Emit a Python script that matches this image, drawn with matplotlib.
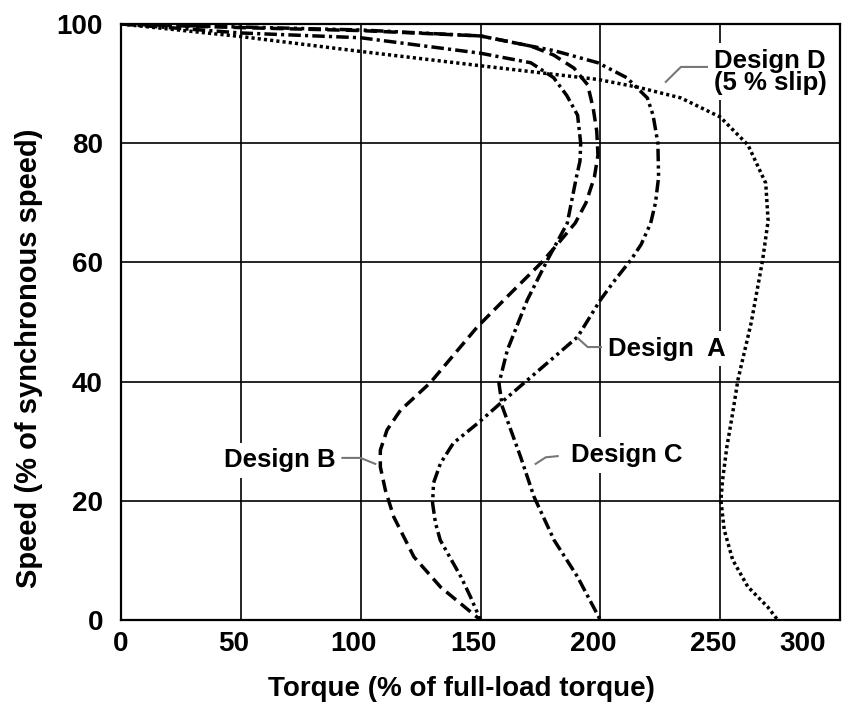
import numpy as np
import matplotlib
matplotlib.use("Agg")
import matplotlib.pyplot as plt
import matplotlib.transforms as mtransforms

plt.rcParams["font.family"] = ["Liberation Sans", "DejaVu Sans"]
plt.rcParams["font.weight"] = "bold"

# torque (% of full-load torque), speed (% of synchronous speed)
torque_a = [0, 50, 100, 150, 171, 181, 199, 211, 219.6, 222, 224, 224.3, 223, 221, 217, 212.7,
            206, 200, 190.5, 174.6, 158.4, 148.8, 138.7, 133.3, 130.4, 130, 131.2, 133.2, 141.9, 145.8, 150]
speed_a = [100, 99.5, 99.0, 98.0, 96.3, 95.5, 93.5, 91, 87.6, 84.7, 80, 74.3, 70, 66.6, 63, 60.4,
           57, 53.7, 47.5, 42, 36.4, 33, 29.7, 26.3, 23, 19.6, 16.3, 13.4, 7.2, 3.9, 0]

torque_b = [0, 50, 100, 150, 171, 180.5, 189, 194.7, 197, 198.5, 199, 197.5, 194, 189.5, 182, 175.5,
            163, 148.7, 129, 116.6, 111, 108.2, 108.2, 110.3, 113.8, 122.2, 133.4, 150]
speed_b = [100, 99.4, 98.9, 98, 96.3, 94.8, 92.6, 89.8, 85.9, 82, 78, 74.3, 70, 66.6, 63, 60,
           55, 49.2, 39.8, 35.2, 31.9, 28.5, 25.7, 21.8, 17.3, 10.6, 5.5, 0]

torque_c = [0, 50, 100, 150, 171, 180.5, 186, 190.5, 191.8, 191.5, 190, 186.2, 177.9, 169.5, 161.2,
            157.7, 159.1, 166.7, 172.3, 180.7, 190.4, 200]
speed_c = [100, 98.5, 97.7, 95.1, 93.5, 91, 88, 84.7, 80, 77, 74.3, 66.6, 60.4, 53.7, 45.3,
           39.7, 35.8, 27.4, 20.7, 13.4, 7.3, 0]

torque_d = [0, 50, 100, 150, 199, 215.6, 233.6, 250, 261.6, 269, 270, 267.7, 263, 257.4, 255.2,
            252.8, 251, 250.3, 251.7, 255.2, 261.5, 269.8, 274]
speed_d = [100, 97.9, 95.4, 93, 90.7, 89.4, 87.6, 84.4, 79.7, 73.3, 67, 60.4, 50, 40.3, 34.7,
           29.1, 23.5, 20.1, 15.1, 10.1, 5.6, 2.2, 0]

x_ticks = [0, 50, 100, 150, 200, 250, 300]
y_ticks = [0, 20, 40, 60, 80, 100]

fig = plt.figure(figsize=(8.48, 7.13), dpi=100)
ax = fig.add_axes([0.1427, 0.1304, 0.8479, 0.8359])

lw = 2.5
ax.plot(torque_d, speed_d, color="black", linewidth=lw, linestyle=(0, (0.9, 0.9)), zorder=3)
ax.plot(torque_b, speed_b, color="black", linewidth=lw, linestyle=(0, (3.6, 1.8)), zorder=3)
ax.plot(torque_c, speed_c, color="black", linewidth=lw, linestyle=(0, (3.6, 1.2, 0.9, 1.2)), zorder=3)
ax.plot(torque_a, speed_a, color="black", linewidth=lw, linestyle=(0, (3.6, 1.2, 0.9, 1.2, 0.9, 1.2)), zorder=3)

ax.set_xlim(0, 300)
ax.set_ylim(0, 100)
ax.set_xticks(x_ticks)
ax.set_yticks(y_ticks)
ax.grid(color="black", linewidth=1.2, zorder=1)
ax.set_axisbelow(True)
for sp in ax.spines.values():
    sp.set_linewidth(1.6)
ax.tick_params(axis="both", length=0, labelsize=20)
ax.tick_params(axis="x", pad=8)
ax.tick_params(axis="y", pad=13)
# the scanned labels sit a little left of their grid lines
for i, lab in enumerate(ax.get_xticklabels()):
    if i == 0:
        continue
    shift = -5
    if i == len(x_ticks) - 1:
        lab.set_horizontalalignment("right")
        shift = -10
    lab.set_transform(lab.get_transform() + mtransforms.ScaledTranslation(shift / 72, 0, fig.dpi_scale_trans))

ax.set_xlabel("Torque (% of full-load torque)", fontsize=20, fontweight="bold")
ax.set_ylabel("Speed (% of synchronous speed)", fontsize=21, fontweight="bold")
ax.xaxis.set_label_coords(0.474, -0.115)
ax.yaxis.set_label_coords(-0.128, 0.44)
ax.xaxis.label.set_va("center")
ax.yaxis.label.set_va("center")

box = dict(facecolor="white", edgecolor="none", pad=4)
lead = dict(color="#777777", linewidth=1.5, zorder=4)
fs = 18.5

ax.text(203.1, 45.5, "Design  A", fontsize=fs, fontweight="bold", ha="left", va="center", bbox=box, zorder=5)
ax.plot([190.6, 194.7, 202.3], [47.3, 45.8, 45.8], **lead)

ax.text(89.4, 26.8, "Design B", fontsize=fs, fontweight="bold", ha="right", va="center", bbox=box, zorder=5)
ax.plot([92.4, 99.9, 106.1], [27.2, 27.2, 26.2], **lead)

ax.text(187.6, 27.7, "Design C", fontsize=fs, fontweight="bold", ha="left", va="center", bbox=box, zorder=5)
ax.plot([173, 177.2, 182.2], [26.2, 27.3, 27.5], **lead)

ax.text(270.8, 92.0, "Design D\n(5 % slip)", fontsize=fs, fontweight="bold", ha="center", va="center",
        linespacing=0.9, bbox=box, zorder=5)
ax.plot([227.3, 233.6, 245.3], [90.3, 92.8, 92.8], **lead)

fig.savefig("out.png", dpi=100)
